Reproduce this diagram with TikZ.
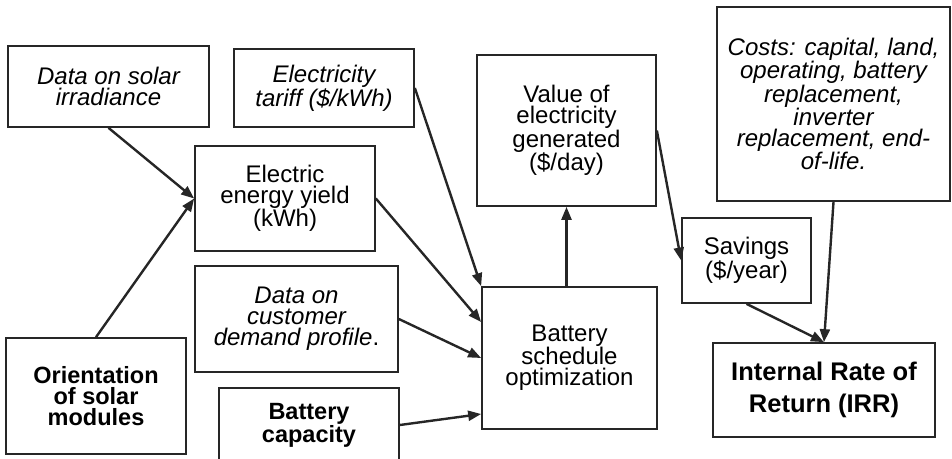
\documentclass[tikz,border=0pt]{standalone}
\usepackage{fontspec}
\setmainfont{Liberation Sans}
\usetikzlibrary{arrows.meta}
\begin{document}
\begin{tikzpicture}[x=1pt,y=-1pt,
  box/.style={draw=black!85, line width=1.7pt, inner sep=1pt, align=center,
    font=\fontsize{24}{21}\selectfont},
  itbox/.style={box, font=\fontsize{24}{21}\selectfont\itshape},
  bfbox/.style={box, font=\fontsize{23.5}{21}\selectfont\bfseries},
  conn/.style={line width=2.4pt, draw=black!85, -{Triangle[length=13pt,width=10pt]}}]
\useasboundingbox (0,0) rectangle (952,458);
% nodes
\node[itbox, minimum width=201pt, minimum height=81pt] (irr) at (108.5,86.5) {Data on solar\\irradiance};
\node[itbox, minimum width=180pt, minimum height=78pt] (tariff) at (324,88) {Electricity\\tariff (\$/kWh)};
\node[box, minimum width=180pt, minimum height=105pt] (yield) at (285,198.5) {Electric\\energy yield\\(kWh)};
\node[box, minimum width=179pt, minimum height=151pt] (value) at (566.5,130.5) {Value of\\electricity\\generated\\(\$/day)};
\node[box, minimum width=129pt, minimum height=85pt] (savings) at (746.5,260.5) {Savings\\(\$/year)};
\node[itbox, minimum width=233pt, minimum height=194pt] (costs) at (833.5,104) {Costs: capital, land,\\operating, battery\\replacement,\\inverter\\replacement, end-\\of-life.};
\node[box, minimum width=222pt, minimum height=94pt, font=\fontsize{25.5}{32}\selectfont\bfseries] (irrate) at (824,390) {Internal Rate of\\Return (IRR)};
\node[bfbox, minimum width=180pt, minimum height=116pt] (orient) at (96,396) {Orientation\\of solar\\modules};
\node[itbox, minimum width=203pt, minimum height=106pt] (demand) at (296.5,319) {Data on\\customer\\demand profile{\upshape .}};
\node[bfbox, minimum width=180pt, minimum height=74pt] (capacity) at (309,425) {Battery\\capacity};
\node[box, minimum width=175pt, minimum height=142pt] (sched) at (569.5,358) {Battery\\schedule\\optimization};
% connectors
\draw[conn] (irr.south) -- (yield.west);
\draw[conn] (orient.north) -- (yield.west);
\draw[conn] (tariff.east) -- (sched.north west);
\draw[conn] (yield.east) -- ([yshift=36pt]sched.west);
\draw[conn] (demand.east) -- (sched.west);
\draw[conn] (capacity.east) -- ([yshift=-56pt]sched.west);
\draw[conn] (value.south |- sched.north) -- (value.south);
\draw[conn] (value.east) -- (savings.west);
\draw[conn] (savings.south) -- (irrate.north);
\draw[conn] (costs.south) -- (irrate.north);
\end{tikzpicture}
\end{document}
